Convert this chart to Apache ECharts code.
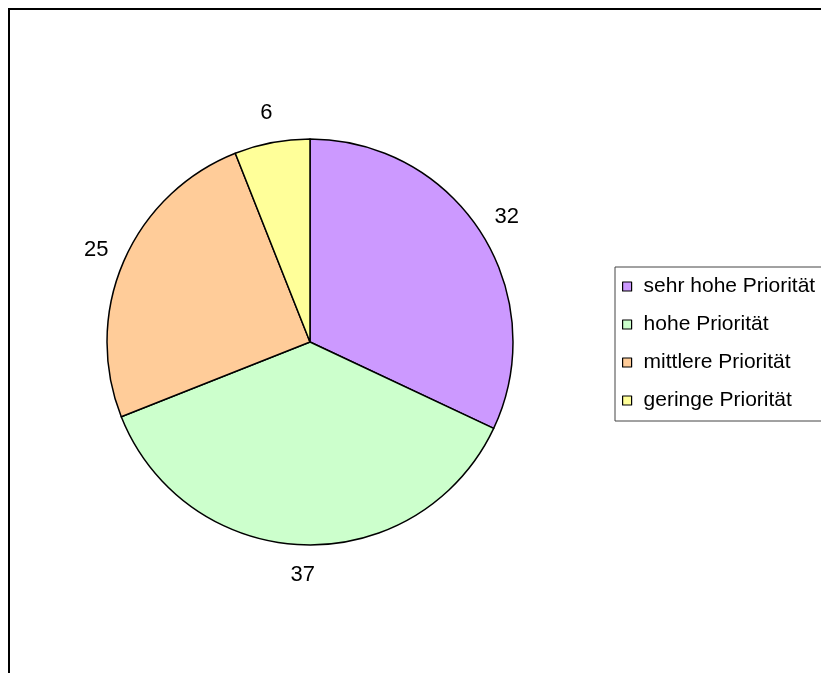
<!DOCTYPE html>
<html>
<head>
<meta charset="utf-8">
<script src="https://cdn.jsdelivr.net/npm/echarts@6/dist/echarts.min.js"></script>
<style>
html,body{margin:0;padding:0;background:#fff;}
#chart{width:821px;height:673px;}
</style>
</head>
<body>
<div id="chart"></div>
<script>
const categories = ['sehr hohe Priorität', 'hohe Priorität', 'mittlere Priorität', 'geringe Priorität'];
const values = [32, 37, 25, 6];
const colors = ['#CC99FF', '#CCFFCC', '#FFCC99', '#FFFF99'];

const chart = echarts.init(document.getElementById('chart'), null, {renderer: 'canvas'});
const data = categories.map((c, i) => ({name: c, value: values[i], itemStyle: {color: colors[i]}}));

chart.setOption({
  animation: false,
  backgroundColor: '#fff',
  graphic: [{
    type: 'rect',
    shape: {x: 9, y: 9, width: 1000, height: 1000},
    style: {fill: 'none', stroke: '#000', lineWidth: 2},
    silent: true
  }],
  legend: {
    orient: 'vertical',
    left: 615,
    top: 267,
    data: categories,
    itemWidth: 9,
    itemHeight: 9,
    itemGap: 17,
    padding: [9, 40, 10, 7],
    borderColor: '#444',
    borderWidth: 1,
    backgroundColor: '#fff',
    selectedMode: false,
    icon: 'rect',
    itemStyle: {borderColor: '#000', borderWidth: 1.2},
    textStyle: {fontFamily: 'Liberation Sans, Arial', fontSize: 21, color: '#000', padding: [0, 0, 0, 7]}
  },
  series: [{
    type: 'pie',
    center: [310, 342],
    radius: [0, 203],
    startAngle: 90,
    clockwise: true,
    silent: true,
    data: data,
    itemStyle: {borderColor: '#000', borderWidth: 1.5},
    label: {show: false},
    labelLine: {show: false},
    emphasis: {disabled: true}
  }, {
    type: 'pie',
    center: [310, 342],
    radius: [0, 460],
    startAngle: 90,
    clockwise: true,
    silent: true,
    z: 1,
    data: categories.map((c, i) => ({name: c, value: values[i]})),
    itemStyle: {color: 'rgba(0,0,0,0)', borderWidth: 0},
    label: {
      show: true,
      position: 'inside',
      formatter: '{c}',
      fontFamily: 'Liberation Sans, Arial',
      fontSize: 22,
      color: '#000'
    },
    labelLine: {show: false},
    emphasis: {disabled: true}
  }]
});
</script>
</body>
</html>
